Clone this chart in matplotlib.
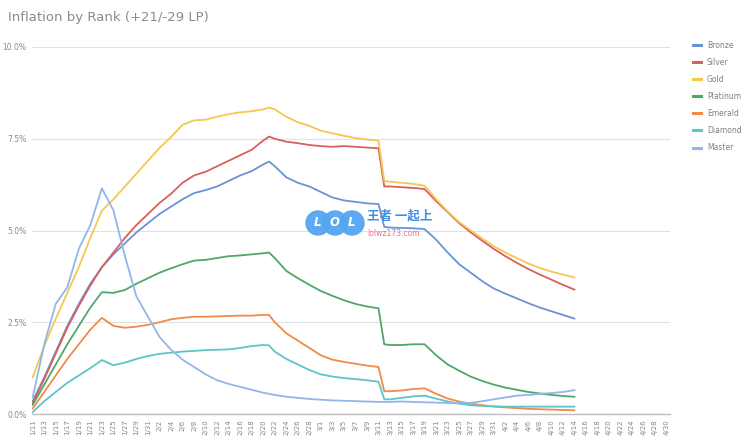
import numpy as np
import pandas as pd
import matplotlib
matplotlib.use("Agg")
import matplotlib.pyplot as plt
from matplotlib.patches import Ellipse

# Inflation by rank, % per day (Google-Sheets style chart)
dates = ["1/11", "1/13", "1/15", "1/17", "1/19", "1/21", "1/23", "1/25", "1/27", "1/29",
         "1/31", "2/2", "2/4", "2/6", "2/8", "2/10", "2/12", "2/14", "2/16", "2/18",
         "2/20", "2/21", "2/22", "2/24", "2/26", "2/28", "3/1", "3/3", "3/5", "3/7",
         "3/9", "3/11", "3/12", "3/13", "3/15", "3/17", "3/19", "3/21", "3/23", "3/25",
         "3/27", "3/29", "3/31", "4/2", "4/4", "4/6", "4/8", "4/10", "4/12", "4/14"]

bronze = [0.35, 1.0, 1.7, 2.4, 3.0, 3.55, 4.0, 4.35, 4.65, 4.95,
          5.2, 5.45, 5.65, 5.85, 6.02, 6.1, 6.2, 6.35, 6.5, 6.62,
          6.8, 6.88, 6.75, 6.45, 6.3, 6.2, 6.05, 5.9, 5.82, 5.78,
          5.74, 5.72, 5.1, 5.08, 5.07, 5.06, 5.04, 4.75, 4.4, 4.08,
          3.85, 3.62, 3.42, 3.28, 3.15, 3.02, 2.9, 2.8, 2.7, 2.6]
silver = [0.3, 0.95, 1.65, 2.35, 2.95, 3.5, 4.0, 4.4, 4.8, 5.15,
          5.45, 5.75, 6.0, 6.3, 6.5, 6.6, 6.75, 6.9, 7.05, 7.2,
          7.45, 7.56, 7.5, 7.42, 7.38, 7.33, 7.3, 7.28, 7.3, 7.28,
          7.26, 7.24, 6.2, 6.2, 6.18, 6.16, 6.13, 5.8, 5.5, 5.2,
          4.95, 4.72, 4.5, 4.3, 4.12, 3.95, 3.8, 3.66, 3.52, 3.39]
gold = [1.0, 1.85, 2.6, 3.3, 4.0, 4.8, 5.54, 5.85, 6.2, 6.55,
        6.9, 7.25, 7.55, 7.88, 8.0, 8.02, 8.1, 8.17, 8.22, 8.25,
        8.3, 8.35, 8.3, 8.1, 7.95, 7.85, 7.72, 7.65, 7.58, 7.52,
        7.48, 7.45, 6.35, 6.33, 6.3, 6.27, 6.22, 5.85, 5.52, 5.23,
        5.0, 4.78, 4.57, 4.4, 4.25, 4.1, 3.98, 3.88, 3.8, 3.72]
platinum = [0.25, 0.8, 1.35, 1.9, 2.4, 2.9, 3.32, 3.3, 3.38, 3.55,
            3.7, 3.85, 3.97, 4.08, 4.18, 4.2, 4.25, 4.3, 4.32, 4.35,
            4.38, 4.4, 4.25, 3.9, 3.7, 3.52, 3.35, 3.22, 3.1, 3.0,
            2.93, 2.88, 1.9, 1.88, 1.88, 1.9, 1.9, 1.6, 1.35, 1.18,
            1.02, 0.9, 0.8, 0.72, 0.66, 0.6, 0.56, 0.52, 0.49, 0.47]
emerald = [0.15, 0.6, 1.05, 1.5, 1.9, 2.3, 2.62, 2.4, 2.35, 2.38,
           2.43, 2.5, 2.58, 2.62, 2.65, 2.65, 2.66, 2.67, 2.68, 2.68,
           2.7, 2.7, 2.5, 2.2, 2.0, 1.8, 1.6, 1.48, 1.42, 1.37,
           1.32, 1.28, 0.62, 0.62, 0.64, 0.68, 0.7, 0.55, 0.42, 0.34,
           0.28, 0.24, 0.2, 0.18, 0.16, 0.14, 0.13, 0.12, 0.11, 0.1]
diamond = [0.05, 0.35, 0.6, 0.85, 1.05, 1.25, 1.47, 1.33, 1.4, 1.5,
           1.58, 1.64, 1.67, 1.7, 1.72, 1.74, 1.75, 1.76, 1.8, 1.85,
           1.88, 1.87, 1.7, 1.5, 1.35, 1.2, 1.08, 1.02, 0.98, 0.95,
           0.92, 0.88, 0.4, 0.4, 0.44, 0.48, 0.5, 0.42, 0.34, 0.28,
           0.24, 0.22, 0.21, 0.2, 0.2, 0.2, 0.2, 0.2, 0.2, 0.2]
master = [0.45, 1.9, 3.0, 3.45, 4.5, 5.15, 6.15, 5.55, 4.3, 3.2,
          2.65, 2.1, 1.75, 1.48, 1.28, 1.08, 0.92, 0.82, 0.74, 0.66,
          0.58, 0.55, 0.52, 0.47, 0.44, 0.41, 0.39, 0.37, 0.36, 0.35,
          0.34, 0.33, 0.33, 0.33, 0.34, 0.33, 0.32, 0.31, 0.3, 0.3,
          0.3, 0.35, 0.4, 0.45, 0.5, 0.52, 0.55, 0.57, 0.6, 0.65]

series_names = ["Bronze", "Silver", "Gold", "Platinum", "Emerald", "Diamond", "Master"]
series_vals = [bronze, silver, gold, platinum, emerald, diamond, master]
colors = ["#6a93d6", "#d9605a", "#f3c850", "#4fa66a", "#f08a4b", "#5fc4c9", "#93b6ea"]

yticks = [0, 2.5, 5.0, 7.5, 10.0]
ytick_labels = ["0.0%", "2.5%", "5.0%", "7.5%", "10.0%"]

x = pd.to_datetime(["2024/" + d for d in dates])
tick_dates = pd.date_range("2024-01-11", "2024-04-30", freq="2D")
tick_labels = [f"{t.month}/{t.day}" for t in tick_dates]

W, H = 750, 442
fig = plt.figure(figsize=(7.5, 4.42), dpi=100)
ax = fig.add_axes([32 / W, 28 / H, 638 / W, 367 / H])

for name, vals, c in zip(series_names, series_vals, colors):
    ax.plot(x, vals, color=c, lw=1.3, label=name, solid_joinstyle="round")

ax.set_ylim(0, 10)
ax.set_xlim(pd.Timestamp("2024-01-10 21:00"), pd.Timestamp("2024-04-30 14:00"))
ax.set_yticks(yticks)
ax.set_yticklabels(ytick_labels, fontsize=5.5, color="#888888")
ax.set_xticks(tick_dates)
ax.set_xticklabels(tick_labels, rotation=90, fontsize=5, color="#888888")
ax.tick_params(axis="both", length=0, pad=4)
ax.grid(axis="y", color="#e2e2e2", lw=0.8)
ax.set_axisbelow(True)
for side in ["top", "right", "left"]:
    ax.spines[side].set_visible(False)
ax.spines["bottom"].set_color("#bdbdbd")
ax.spines["bottom"].set_linewidth(1.0)

fig.text(8 / W, 1 - 18 / H, "Inflation by Rank (+21/-29 LP)", fontsize=9.5,
         color="#8a8a8a", va="center", ha="left")

leg = fig.legend(loc="upper left", bbox_to_anchor=(690 / W, 1 - 38 / H),
                 frameon=False, fontsize=5.5, handlelength=1.0, handletextpad=0.8,
                 labelspacing=1.05, borderaxespad=0)
for t in leg.get_texts():
    t.set_color("#808080")
for h in leg.get_lines():
    h.set_linewidth(2.2)

# watermark
wm_x = [318, 335, 352]
for cx in wm_x:
    fig.patches.append(Ellipse((cx / W, 1 - 223 / H), 24 / W, 24 / H,
                               transform=fig.transFigure, color="#55a6f0",
                               alpha=0.95, zorder=20))
for cx, ch in zip(wm_x, ["L", "O", "L"]):
    fig.text(cx / W, 1 - 223 / H, ch, color="white", fontsize=8.5, fontweight="bold",
             style="italic", ha="center", va="center", zorder=21)
fig.text(367 / W, 1 - 216 / H, "王者 一起上", color="#3b8fe8", fontsize=9,
         fontweight="bold", family=["Noto Sans CJK SC", "DejaVu Sans"],
         ha="left", va="center", zorder=21)
fig.text(367 / W, 1 - 233 / H, "lolwz173.com", color="#f06a8e", fontsize=5.5,
         ha="left", va="center", zorder=21)

fig.savefig("out.png", dpi=100)
